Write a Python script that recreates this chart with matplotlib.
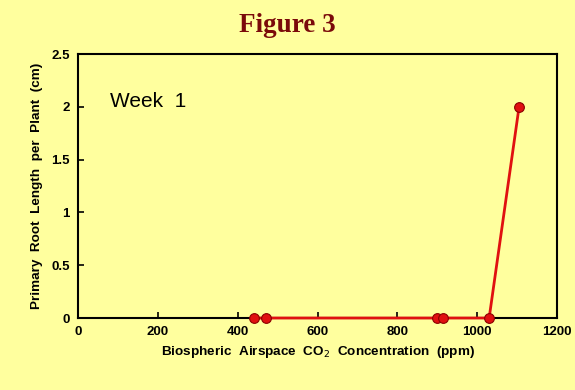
import matplotlib
matplotlib.use("Agg")
import matplotlib.pyplot as plt

# Week 1 data
co2_ppm = [440, 470, 900, 915, 1030, 1105]
root_len = [0, 0, 0, 0, 0, 2.0]

x_ticks = [0, 200, 400, 600, 800, 1000, 1200]
y_ticks = [0, 0.5, 1, 1.5, 2, 2.5]
y_labels = ["0", "0.5", "1", "1.5", "2", "2.5"]

bg = "#FFFF9E"

fig = plt.figure(figsize=(5.75, 3.9), dpi=100, facecolor=bg)
ax = fig.add_axes([0.1357, 0.1846, 0.8330, 0.6769], facecolor=bg)

ax.plot(co2_ppm, root_len, color="#E01010", lw=2, marker="o", ms=7,
        mfc="#E01010", mec="#8B0000", mew=0.8, clip_on=False, zorder=3)

ax.set_xlim(0, 1200)
ax.set_ylim(0, 2.5)
ax.set_xticks(x_ticks)
ax.set_yticks(y_ticks)
ax.set_yticklabels(y_labels)
ax.tick_params(labelsize=9.5, width=1.2, length=4, direction="in", pad=6)
for lab in ax.get_xticklabels() + ax.get_yticklabels():
    lab.set_fontweight("bold")
    lab.set_family("Liberation Sans")
for s in ax.spines.values():
    s.set_linewidth(1.5)

ax.set_xlabel("Biospheric  Airspace  CO$_2$  Concentration  (ppm)",
              fontsize=9.7, fontweight="bold", family="Liberation Sans", labelpad=4)
ax.set_ylabel("Primary  Root  Length  per  Plant  (cm)",
              fontsize=9.7, fontweight="bold", family="Liberation Sans", labelpad=6)

ax.text(0.067, 0.80, "Week  1", transform=ax.transAxes, fontsize=15,
        family="Liberation Sans")

fig.text(0.5, 0.935, "Figure 3", ha="center", va="center", fontsize=19.5,
         fontweight="bold", family="Liberation Serif", color="#7A0A0A")

fig.savefig("out.png", dpi=100, facecolor=bg)
